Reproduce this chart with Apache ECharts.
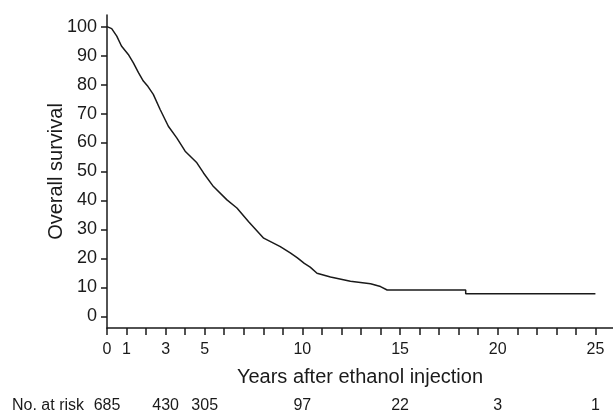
<!DOCTYPE html>
<html>
<head>
<meta charset="utf-8">
<script src="https://cdn.jsdelivr.net/npm/echarts@6/dist/echarts.min.js"></script>
<style>html,body{margin:0;padding:0;background:#fff}#c{width:613px;height:414px}</style>
</head>
<body>
<div id="c"></div>
<script>
// Kaplan-Meier curve: [years, survival %]
var survivalCurve = [
  [0,100],[0.24,99.3],[0.5,96.7],[0.74,93.3],[1.09,90.4],[1.35,87.5],[1.61,84.1],[1.86,81.2],
  [2.1,79.3],[2.37,76.6],[2.72,71.4],[3.14,65.6],[3.57,61.6],[4.0,57.0],[4.3,55.0],[4.6,53.0],[4.94,49.5],[5.45,44.8],
  [6.14,40.2],[6.65,37.4],[7.25,32.7],[8.02,27.0],[8.87,24.1],[9.38,21.9],[9.73,20.3],[10.1,18.3],
  [10.4,17.0],[10.75,14.9],[11.44,13.6],[12.46,12.1],[13.49,11.3],[14.0,10.3],[14.34,9.1],
  [18.36,9.1],[18.36,7.8],[25.0,7.8]
];
var xTickValues = [0,1,2,3,4,5,6,7,8,9,10,11,12,13,14,15,16,17,18,19,20,21,22,23,24,25];
var xLabelValues = [0,1,3,5,10,15,20,25];
var yTickValues = [0,10,20,30,40,50,60,70,80,90,100];
var riskTimes = [0,3,5,10,15,20,25];
var riskCounts = ['685','430','305','97','22','3','1'];

var font = 'Liberation Sans, Arial, sans-serif';
var ink = '#1a1a1a';
var chart = echarts.init(document.getElementById('c'), null, {renderer:'canvas'});
chart.setOption({
  animation: false,
  backgroundColor: '#fff',
  grid: {left:107, right:0, top:15, bottom:86, containLabel:false, outerBoundsMode:'none'},
  xAxis: [{
    type:'value', min:0, max:25.9, position:'bottom',
    name:'Years after ethanol injection', nameLocation:'middle', nameGap:39, nameMoveOverlap:false,
    nameTextStyle:{fontFamily:font, fontSize:20, color:ink},
    axisLine:{show:true, onZero:false, lineStyle:{color:ink, width:1.5}},
    axisTick:{show:true, inside:false, length:7, customValues:xTickValues, lineStyle:{color:ink, width:1.5}},
    axisLabel:{customValues:xLabelValues, margin:14, fontFamily:font, fontSize:16, color:ink},
    splitLine:{show:false}
  },{
    type:'value', min:0, max:25.9, position:'bottom', offset:62,
    axisLine:{show:false}, axisTick:{show:false}, splitLine:{show:false},
    axisLabel:{customValues:riskTimes, margin:8, fontFamily:font, fontSize:16, color:ink,
      formatter:function(v){var i=riskTimes.indexOf(v);return i>=0?riskCounts[i]:'';}}
  }],
  yAxis: {
    type:'value', min:-4, max:104,
    name:'Overall survival', nameLocation:'middle', nameGap:41, nameRotate:90, nameMoveOverlap:false,
    nameTextStyle:{fontFamily:font, fontSize:20, color:ink},
    axisLine:{show:true, onZero:false, lineStyle:{color:ink, width:1.5}},
    axisTick:{show:true, length:6, customValues:yTickValues, lineStyle:{color:ink, width:1.5}},
    axisLabel:{customValues:yTickValues, margin:10, fontFamily:font, fontSize:18, color:ink},
    splitLine:{show:false}
  },
  graphic: [{
    type:'text', left:12, top:398,
    style:{text:'No. at risk', fontFamily:font, fontSize:16, fill:ink}
  }],
  series: [{
    type:'line', xAxisIndex:0, data:survivalCurve, showSymbol:false, symbol:'none',
    lineStyle:{color:ink, width:1.5}
  }]
});
</script>
</body>
</html>
